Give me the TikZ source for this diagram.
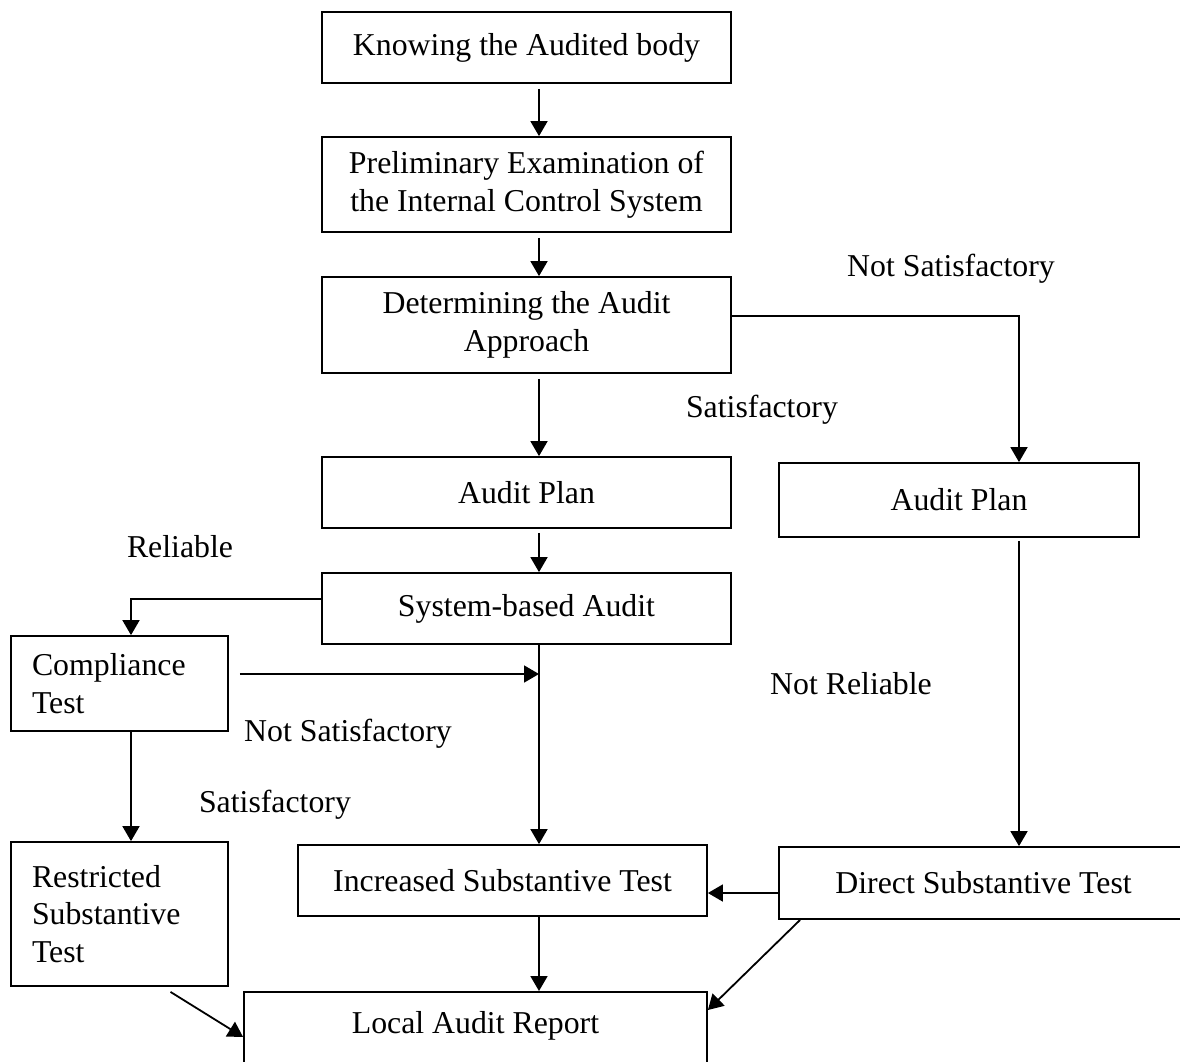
\documentclass[tikz,border=0pt]{standalone}
\usepackage{fontspec}
\setmainfont{Liberation Serif}
\usetikzlibrary{arrows.meta}
\tikzset{
  stage/.style={draw, line width=1.8pt, minimum width=409pt, align=center, inner sep=2pt},
  sidebox/.style={draw, line width=1.8pt, text width=175pt, inner xsep=21pt, inner ysep=2pt, align=left},
  flow/.style={line width=1.8pt, -{Triangle[length=15pt,width=17pt]}},
  cue/.style={inner sep=0pt},
}
\begin{document}
\begin{tikzpicture}[x=1pt, y=-1pt, every node/.style={font=\fontsize{31.8}{37.5}\selectfont}]
        \useasboundingbox (0,0) rectangle (1180,1061);
        \coordinate (spine) at (539,0);
        \coordinate (lspine) at (131,0);
        \coordinate (rspine) at (1019,0);

        % main column
        \node[stage, minimum height=71pt] (know) at (526.5,47.5) {Knowing the Audited body};
        \node[stage, minimum height=95pt] (prelim) at (526.5,184.5) {Preliminary Examination of\\the Internal Control System};
        \node[stage, minimum height=96pt] (approach) at (526.5,325) {Determining the Audit\\Approach};
        \node[stage, minimum height=71pt] (planL) at (526.5,492.5) {Audit Plan};
        \node[stage, minimum height=71pt] (sysaudit) at (526.5,608.5) {System-based Audit};
        \node[stage, minimum height=71pt] (incr) at (502.5,880.5) {Increased Substantive Test};
        \node[stage, minimum width=463pt, anchor=north, text height=40pt, text depth=60pt] (local) at (475.5,991) {Local Audit Report};

        % right column
        \node[stage, minimum width=360pt, minimum height=74pt] (planR) at (959,500) {Audit Plan};
        \node[stage, minimum height=72pt] (direct) at (983.5,883) {Direct Substantive Test};

        % left column
        \node[sidebox, minimum height=95pt] (comp) at (119.5,683.5) {Compliance\\Test};
        \node[sidebox, minimum height=144pt] (restr) at (119.5,914) {Restricted\\Substantive\\Test};

        % labels
        \node[cue] (lnsat1) at (951,269) {Not Satisfactory};
        \node[cue] (lsat1) at (762,410) {Satisfactory};
        \node[cue] (lrel) at (180,547) {Reliable};
        \node[cue] (lnrel) at (851,684) {Not Reliable};
        \node[cue] (lnsat2) at (348,734) {Not Satisfactory};
        \node[cue] (lsat2) at (275,805) {Satisfactory};

        \coordinate (cjoin) at (539,674);

        \draw[flow, shorten <=5pt] (know.south -| spine) -- (prelim.north -| spine);
        \draw[flow, shorten <=5pt] (prelim.south -| spine) -- (approach.north -| spine);
        \draw[flow, shorten <=5pt] (approach.south -| spine) -- (planL.north -| spine);
        \draw[flow] ([yshift=9pt]approach.east) -| (planR.north -| rspine);
        \draw[flow, shorten <=4pt] (planL.south -| spine) -- (sysaudit.north -| spine);
        \draw[flow] ([yshift=9.5pt]sysaudit.west) -| (comp.north -| lspine);
        \draw[flow] (sysaudit.south -| spine) -- (incr.north -| spine);
        \draw[flow] ([xshift=11pt,yshift=9.5pt]comp.east) -- (cjoin);
        \draw[flow] (comp.south -| lspine) -- (restr.north -| lspine);
        \draw[flow, shorten <=3pt] (planR.south -| rspine) -- (direct.north -| rspine);
        \draw[flow] ([yshift=-10pt]direct.west) -- ([yshift=-12.5pt]incr.east);
        \draw[flow] (incr.south -| spine) -- (local.north -| spine);
        \draw[flow] ([xshift=22pt]direct.south west) -- ([yshift=-19pt]local.north east);
        \draw[flow] ([xshift=51pt,yshift=-5pt]restr.south) -- ([yshift=-46pt]local.north west);
    \end{tikzpicture}
\end{document}
